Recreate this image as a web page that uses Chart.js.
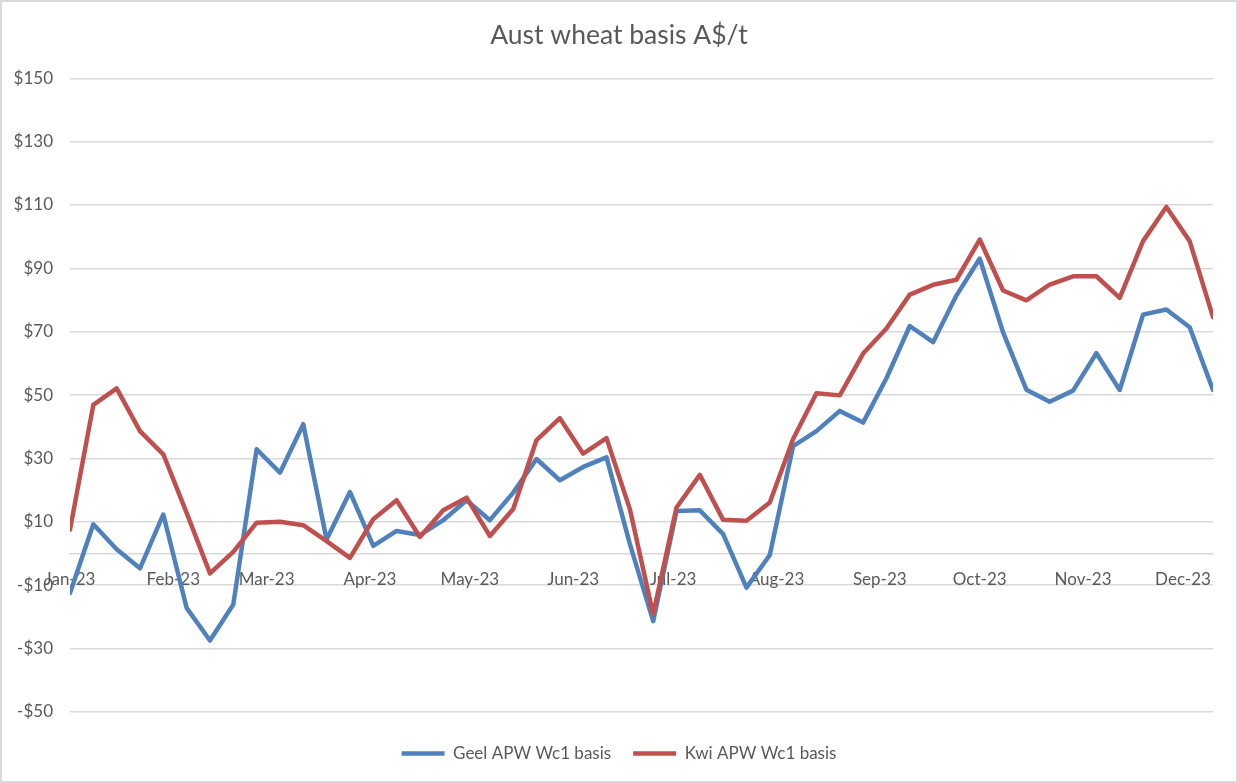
<!DOCTYPE html>
<html>
<head>
<meta charset="utf-8">
<script src="https://cdn.jsdelivr.net/npm/chart.js@4.4.1/dist/chart.umd.min.js"></script>
<style>
  html, body { margin: 0; padding: 0; background: #fff; }
  #wrap { position: relative; width: 1238px; height: 783px; overflow: hidden; }
  #frame { position: absolute; left: 0; top: 0; right: 0; bottom: 0; border: 2px solid #d9d9d9; pointer-events: none; box-sizing: border-box; }
  canvas { display: block; }
</style>
</head>
<body>
<div id="wrap"><canvas id="c"></canvas><div id="frame"></div></div>
<script>
const chartTitle = 'Aust wheat basis A$/t';
const seriesNames = ['Geel APW Wc1 basis', 'Kwi APW Wc1 basis'];

const weekDates = [
  '2023-01-06','2023-01-13','2023-01-20','2023-01-27',
  '2023-02-03','2023-02-10','2023-02-17','2023-02-24',
  '2023-03-03','2023-03-10','2023-03-17','2023-03-24','2023-03-31',
  '2023-04-07','2023-04-14','2023-04-21','2023-04-28',
  '2023-05-05','2023-05-12','2023-05-19','2023-05-26',
  '2023-06-02','2023-06-09','2023-06-16','2023-06-23','2023-06-30',
  '2023-07-07','2023-07-14','2023-07-21','2023-07-28',
  '2023-08-04','2023-08-11','2023-08-18','2023-08-25',
  '2023-09-01','2023-09-08','2023-09-15','2023-09-22','2023-09-29',
  '2023-10-06','2023-10-13','2023-10-20','2023-10-27',
  '2023-11-03','2023-11-10','2023-11-17','2023-11-24',
  '2023-12-01','2023-12-08','2023-12-15'
];

const geelBasis = [
  -12.5, 9.2, 1.3, -4.7, 12.3, -17.2, -27.5, -16.1, 32.9, 25.5,
  40.8, 4.4, 19.4, 2.4, 7.1, 5.8, 10.5, 16.8, 10.5, 19.2,
  29.8, 23.1, 27.3, 30.3, 3.0, -21.4, 13.4, 13.6, 6.1, -10.8,
  -0.5, 33.9, 38.6, 45.0, 41.3, 55.3, 71.8, 66.7, 81.4, 93.1,
  69.8, 51.7, 47.9, 51.4, 63.2, 51.6, 75.4, 77.0, 71.4, 51.6
];

const kwiBasis = [
  7.5, 46.9, 52.1, 38.6, 31.3, 12.8, -6.3, 0.5, 9.7, 10.0,
  8.9, 3.9, -1.4, 10.8, 16.8, 5.2, 13.6, 17.6, 5.5, 14.0,
  35.8, 42.7, 31.5, 36.4, 14.0, -19.2, 14.5, 24.8, 10.6, 10.3,
  16.1, 36.1, 50.6, 49.9, 63.1, 71.0, 81.7, 84.8, 86.4, 99.1,
  83.0, 79.9, 84.9, 87.5, 87.5, 80.7, 98.6, 109.4, 98.6, 74.6
];

const tickDates = [
  '2023-01-06','2023-02-06','2023-03-06','2023-04-06','2023-05-06','2023-06-06',
  '2023-07-06','2023-08-06','2023-09-06','2023-10-06','2023-11-06','2023-12-06'
];
const tickLabels = ['Jan-23','Feb-23','Mar-23','Apr-23','May-23','Jun-23',
                    'Jul-23','Aug-23','Sep-23','Oct-23','Nov-23','Dec-23'];

const yMin = -50, yMax = 150, yStep = 20;

// helpers
const DAY = 86400000;
const t0 = Date.parse(weekDates[0] + 'T00:00:00Z');
const dayOf = s => Math.round((Date.parse(s + 'T00:00:00Z') - t0) / DAY);
const xDays = weekDates.map(dayOf);
const tickDays = tickDates.map(dayOf);

const FONT = 'Lato, "Open Sans", "DejaVu Sans", sans-serif';
const TXT = '#595959';
const GRID = '#d9d9d9';
const BLUE = '#4F81BD';
const RED = '#C0504D';

const canvas = document.getElementById('c');
canvas.width = 1238; canvas.height = 783;
canvas.style.width = '1238px'; canvas.style.height = '783px';

new Chart(canvas, {
  type: 'line',
  data: {
    datasets: [
      {
        label: seriesNames[0],
        data: xDays.map((d, i) => ({ x: d, y: geelBasis[i] })),
        borderColor: BLUE, backgroundColor: BLUE,
        borderWidth: 4.5, pointRadius: 0, pointHoverRadius: 0,
        tension: 0, borderJoinStyle: 'round', borderCapStyle: 'round',
        clip: 0, order: 1, pointStyle: 'line'
      },
      {
        label: seriesNames[1],
        data: xDays.map((d, i) => ({ x: d, y: kwiBasis[i] })),
        borderColor: RED, backgroundColor: RED,
        borderWidth: 4.5, pointRadius: 0, pointHoverRadius: 0,
        tension: 0, borderJoinStyle: 'round', borderCapStyle: 'round',
        clip: 0, order: 0, pointStyle: 'line'
      }
    ]
  },
  options: {
    responsive: false,
    animation: false,
    devicePixelRatio: 1,
    layout: { padding: { left: 0, right: 0, top: 0, bottom: 11 } },
    plugins: {
      tooltip: { enabled: false },
      title: {
        display: true,
        text: chartTitle,
        color: TXT,
        font: { family: FONT, size: 26.5, weight: 'normal' },
        padding: { top: 20, bottom: 26.5 }
      },
      legend: {
        display: true,
        position: 'bottom',
        title: { display: true, text: ' ', font: { size: 1 }, padding: { top: 10, bottom: 0 } },
        labels: {
          color: TXT,
          font: { family: FONT, size: 17 },
          usePointStyle: true,
          pointStyleWidth: 43,
          boxHeight: 17,
          padding: 22,
          sort: (a, b) => a.datasetIndex - b.datasetIndex
        }
      }
    },
    scales: {
      x: {
        type: 'linear',
        position: { y: 0 },
        min: 0,
        max: xDays[xDays.length - 1],
        afterBuildTicks: s => { s.ticks = tickDays.map(v => ({ value: v })); },
        grid: { display: false, drawTicks: false },
        border: { display: true, color: GRID, width: 1.5 },
        ticks: {
          autoSkip: false, maxRotation: 0, minRotation: 0,
          padding: 15.5,
          color: TXT,
          font: { family: FONT, size: 17 },
          callback: (v, i) => tickLabels[i]
        }
      },
      y: {
        type: 'linear',
        position: 'left',
        min: yMin, max: yMax,
        afterFit: s => { s.width = 70; },
        afterBuildTicks: s => {
          const t = [];
          for (let v = yMin; v <= yMax; v += yStep) t.push({ value: v });
          s.ticks = t;
        },
        grid: { color: GRID, lineWidth: 1.5, drawTicks: false },
        border: { display: false },
        ticks: {
          padding: 17,
          color: TXT,
          font: { family: FONT, size: 17 },
          callback: v => (v < 0 ? '-$' + Math.abs(v) : '$' + v)
        }
      },
      yRightSpace: {
        type: 'linear',
        position: 'right',
        display: true,
        min: yMin, max: yMax,
        afterFit: s => { s.width = 25; },
        grid: { display: false, drawTicks: false },
        border: { display: false },
        ticks: { display: false }
      }
    }
  }
});
</script>
</body>
</html>
